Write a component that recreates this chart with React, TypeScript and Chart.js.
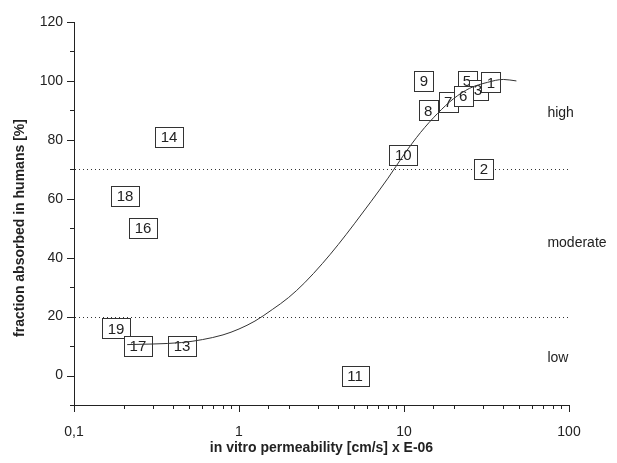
import React, { useEffect, useRef } from 'react';
import { Chart, registerables } from 'chart.js';

Chart.register(...registerables);

// Compound numbers (drawing order), in vitro permeability (x, cm/s x E-06) and fraction absorbed (%)
const compoundIds = ['11', '19', '17', '13', '16', '18', '14', '2', '10', '9', '5', '3', '1', '8', '7', '6'];
const permeability = [5.05, 0.18, 0.244, 0.452, 0.262, 0.204, 0.377, 30.5, 9.9, 13.2, 24.1, 28.1, 33.6, 14.0, 18.5, 22.8];
const absorbed = [0, 16, 10, 10, 50, 61, 81, 70, 75, 100, 100, 97, 99.5, 90, 93, 95];

// Fitted sigmoid curve
const fitX = [0.21, 0.3, 0.45, 0.6, 0.8, 1.0, 1.25, 1.6, 2.0, 2.5, 3.2, 4.0, 5.0, 6.3, 8.0, 10, 12.6, 16, 20, 25, 32, 40, 48];
const fitY = [10.5, 10.7, 11.2, 12.2, 13.8, 15.8, 18.5, 22.5, 26.5, 31.5, 38, 44.5, 51.5, 59, 67, 75, 82.5, 89, 94, 97.5, 99.5, 100.5, 100];

// Class thresholds and labels
const thresholds = [20, 70];
const classNames = ['low', 'moderate', 'high'];
const classY = [6, 45, 89];
const classX = 74;

const xTickValues = [0.1, 1, 10, 100];
const xTickLabels = ['0,1', '1', '10', '100'];
const yTickLabelStep = 20;

const xTitle = 'in vitro permeability [cm/s] x E-06';
const yTitle = 'fraction absorbed in humans [%]';

const FONT = '"Liberation Sans", Arial, sans-serif';
const INK = '#222';
const LINE = '#333';

const isPow10 = (v: number) => {
  const l = Math.log10(v);
  return Math.abs(l - Math.round(l)) < 1e-6;
};

const overlay = {
  id: 'overlay',
  beforeDatasetsDraw(chart: any) {
    const { ctx, chartArea, scales } = chart;
    const x = scales.x;
    const y = scales.y;
    ctx.save();
    // dotted threshold lines
    ctx.strokeStyle = LINE;
    ctx.lineWidth = 1;
    ctx.setLineDash([1, 3]);
    thresholds.forEach((t) => {
      const py = Math.round(y.getPixelForValue(t)) + 0.5;
      ctx.beginPath();
      ctx.moveTo(chartArea.left + 1, py);
      ctx.lineTo(chartArea.right, py);
      ctx.stroke();
    });
    ctx.setLineDash([]);
    // class labels
    ctx.font = `14px ${FONT}`;
    ctx.fillStyle = INK;
    ctx.textAlign = 'left';
    ctx.textBaseline = 'middle';
    classNames.forEach((n, i) => {
      ctx.fillText(n, x.getPixelForValue(classX), y.getPixelForValue(classY[i]));
    });
    // boxed compound labels
    const meta = chart.getDatasetMeta(1);
    ctx.font = `15px ${FONT}`;
    ctx.textAlign = 'center';
    compoundIds.forEach((id, i) => {
      const el = meta.data[i];
      const px = el.x;
      const py = el.y;
      const w = Math.round(ctx.measureText(id).width + 11);
      const h = 20;
      const bx = Math.round(px - w / 2) + 0.5;
      const by = Math.round(py - h / 2) + 0.5;
      ctx.fillStyle = '#fff';
      ctx.fillRect(bx, by, w, h);
      ctx.strokeStyle = LINE;
      ctx.lineWidth = 1;
      ctx.strokeRect(bx, by, w, h);
      ctx.fillStyle = INK;
      ctx.fillText(id, px, py + 1);
    });
    ctx.restore();
  },
  afterDraw(chart: any) {
    const { ctx, chartArea, scales } = chart;
    const x = scales.x;
    const y = scales.y;
    ctx.save();
    ctx.strokeStyle = INK;
    ctx.lineWidth = 1;
    // x tick marks
    x.ticks.forEach((t: any) => {
      const px = Math.round(x.getPixelForValue(t.value)) + 0.5;
      const len = isPow10(t.value) ? 7 : 4;
      ctx.beginPath();
      ctx.moveTo(px, chartArea.bottom);
      ctx.lineTo(px, chartArea.bottom + len);
      ctx.stroke();
    });
    // y tick marks
    y.ticks.forEach((t: any) => {
      const py = Math.round(y.getPixelForValue(t.value)) + 0.5;
      const len = t.value % yTickLabelStep === 0 ? 7 : 4;
      ctx.beginPath();
      ctx.moveTo(chartArea.left, py);
      ctx.lineTo(chartArea.left - len, py);
      ctx.stroke();
    });
    // axis titles
    ctx.fillStyle = INK;
    ctx.font = `bold 14px ${FONT}`;
    ctx.textAlign = 'center';
    ctx.textBaseline = 'middle';
    ctx.fillText(xTitle, (chartArea.left + chartArea.right) / 2, 448);
    ctx.translate(20, 228);
    ctx.rotate(-Math.PI / 2);
    ctx.fillText(yTitle, 0, 0);
    ctx.restore();
  },
};

export default function App() {
  const ref = useRef<HTMLCanvasElement | null>(null);

  useEffect(() => {
    if (!ref.current) return;
    const chart = new Chart(ref.current, {
      type: 'line',
      data: {
        datasets: [
          {
            label: 'fit',
            data: fitX.map((v, i) => ({ x: v, y: fitY[i] })),
            borderColor: LINE,
            borderWidth: 1,
            pointRadius: 0,
            fill: false,
            cubicInterpolationMode: 'monotone',
          } as any,
          {
            label: 'compounds',
            type: 'scatter',
            data: permeability.map((v, i) => ({ x: v, y: absorbed[i] })),
            pointRadius: 0,
            showLine: false,
          } as any,
        ],
      },
      options: {
        responsive: false,
        devicePixelRatio: 1,
        animation: false,
        layout: { padding: { top: 22, right: 48, left: 0, bottom: 0 } },
        plugins: { legend: { display: false }, tooltip: { enabled: false } },
        scales: {
          x: {
            type: 'logarithmic',
            min: 0.1,
            max: 100,
            grid: { display: false, tickLength: 7 },
            border: { display: true, color: INK, width: 1 },
            ticks: {
              autoSkip: false,
              maxRotation: 0,
              padding: 12,
              color: INK,
              font: { size: 14, family: FONT },
              callback: (v: any) => {
                const n = Number(v);
                const idx = xTickValues.findIndex((t) => Math.abs(Math.log10(t) - Math.log10(n)) < 1e-6);
                return idx >= 0 ? xTickLabels[idx] : '';
              },
            },
            afterFit: (s: any) => {
              s.height = 58;
            },
          },
          y: {
            type: 'linear',
            min: -10,
            max: 120,
            grid: { display: false, tickLength: 7 },
            border: { display: true, color: INK, width: 1 },
            ticks: {
              stepSize: 10,
              padding: 4,
              color: INK,
              font: { size: 14, family: FONT },
              callback: (v: any) => {
                const n = Number(v);
                return n >= 0 && n % yTickLabelStep === 0 ? String(n) : '';
              },
            },
            afterFit: (s: any) => {
              s.width = 74;
            },
          },
        },
      },
      plugins: [overlay],
    });
    return () => chart.destroy();
  }, []);

  return (
    <div style={{ position: 'absolute', left: 0, top: 0, width: 617, height: 463, background: '#fff' }}>
      <canvas ref={ref} width={617} height={463} />
    </div>
  );
}
